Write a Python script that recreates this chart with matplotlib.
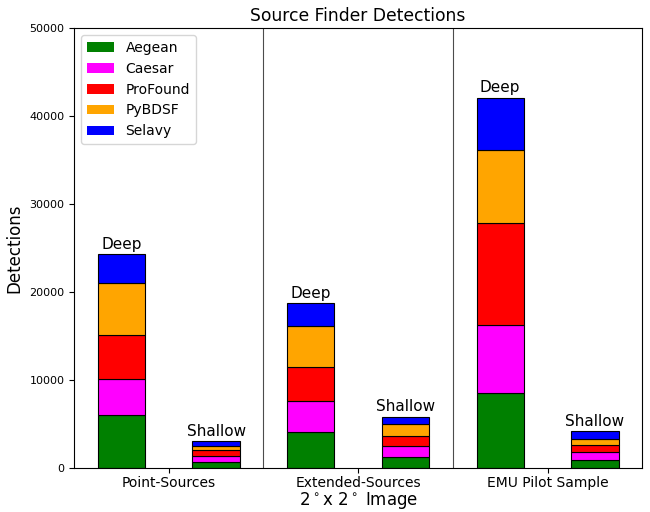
import matplotlib
matplotlib.use('Agg')
import matplotlib.pyplot as plt
from matplotlib.patches import Patch
import numpy as np

# data
groups = ['Point-Sources', 'Extended-Sources', 'EMU Pilot Sample']
finders = ['Aegean', 'Caesar', 'ProFound', 'PyBDSF', 'Selavy']
colors = ['green', 'magenta', 'red', 'orange', 'blue']

deep = {
    'Aegean':   [6000, 4100, 8500],
    'Caesar':   [4100, 3500, 7800],
    'ProFound': [5000, 3850, 11600],
    'PyBDSF':   [5900, 4650, 8300],
    'Selavy':   [3300, 2600, 5900],
}
shallow = {
    'Aegean':   [650, 1210, 910],
    'Caesar':   [680, 1250, 910],
    'ProFound': [700, 1130, 790],
    'PyBDSF':   [490, 1360, 680],
    'Selavy':   [500, 870, 870],
}

x = np.arange(len(groups))
w = 0.25

fig = plt.figure(figsize=(6.5, 5.12), dpi=100)
ax = fig.add_axes([0.114, 0.086, 0.874, 0.859])

bot_d = np.zeros(len(groups))
bot_s = np.zeros(len(groups))
for f, c in zip(finders, colors):
    ax.bar(x - 0.25, deep[f], w, bottom=bot_d, color=c, edgecolor='black', linewidth=0.8)
    ax.bar(x + 0.25, shallow[f], w, bottom=bot_s, color=c, edgecolor='black', linewidth=0.8)
    bot_d += deep[f]
    bot_s += shallow[f]

for i in range(len(groups)):
    ax.text(x[i] - 0.25, bot_d[i] + 300, 'Deep', ha='center', va='bottom', fontsize=11)
    ax.text(x[i] + 0.25, bot_s[i] + 300, 'Shallow', ha='center', va='bottom', fontsize=11)

for b in [0.5, 1.5]:
    ax.axvline(b, color='black', linewidth=0.8, alpha=0.7)

ax.set_xlim(-0.5, 2.5)
ax.set_ylim(0, 50000)
ax.set_xticks(x)
ax.set_xticklabels(groups, fontsize=10)
ax.tick_params(axis='x', pad=2)
ax.tick_params(axis='y', labelsize=8)
ax.set_ylabel('Detections', fontsize=12)
ax.set_xlabel(r'2$^\circ$x 2$^\circ$ Image', fontsize=12, labelpad=0)
ax.set_title('Source Finder Detections', fontsize=12.3, pad=5)

handles = [Patch(facecolor=c, label=f) for f, c in zip(finders, colors)]
ax.legend(handles=handles, loc='upper left', fontsize=10)

fig.savefig('out.png', dpi=100)
